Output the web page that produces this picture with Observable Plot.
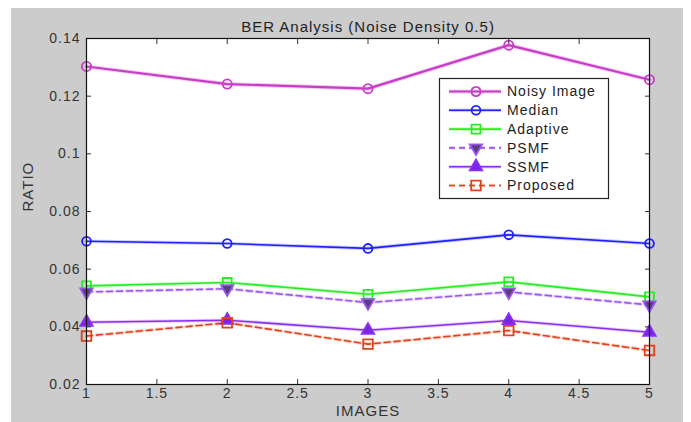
<!DOCTYPE html>
<html>
<head>
<meta charset="utf-8">
<script src="https://cdn.jsdelivr.net/npm/d3@7"></script>
<script src="https://cdn.jsdelivr.net/npm/@observablehq/plot@0.6"></script>
<style>
  html, body { margin: 0; padding: 0; background: #ffffff; }
  #wrap { position: relative; width: 691px; height: 422px; overflow: hidden; }
  #bg { position: absolute; left: 11px; top: 8px; width: 672px; height: 414px; background: #cccccc; }
  #chart { position: absolute; left: 0; top: 0; }
  #legend { position: absolute; left: 0; top: 0; }
  svg text { letter-spacing: 1px; }
</style>
</head>
<body>
<div id="wrap"><div id="bg"></div><div id="chart"></div><div id="legend"></div></div>
<script>
// ---- data ----
const images   = [1, 2, 3, 4, 5];
const noisy    = [0.1303, 0.1242, 0.1226, 0.1377, 0.1257];
const median   = [0.0697, 0.0689, 0.0672, 0.0719, 0.0689];
const adaptive = [0.0542, 0.0554, 0.0513, 0.0556, 0.0504];
const psmf     = [0.0521, 0.0532, 0.0484, 0.0521, 0.0476];
const ssmf     = [0.0416, 0.0423, 0.0388, 0.0422, 0.0381];
const proposed = [0.0368, 0.0414, 0.0340, 0.0387, 0.0318];
const seriesNames = ["Noisy Image", "Median", "Adaptive", "PSMF", "SSMF", "Proposed"];
const xTicks = [1, 1.5, 2, 2.5, 3, 3.5, 4, 4.5, 5];
const xTickLabels = ["1", "1.5", "2", "2.5", "3", "3.5", "4", "4.5", "5"];
const yTicks = [0.02, 0.04, 0.06, 0.08, 0.1, 0.12, 0.14];
const yTickLabels = ["0.02", "0.04", "0.06", "0.08", "0.1", "0.12", "0.14"];
const titleText = "BER Analysis (Noise Density 0.5)";
const xLabel = "IMAGES";
const yLabel = "RATIO";

// ---- styles ----
const styles = [
  {color: "#c83cc8", halo: "#e49be4", width: 2.2, dash: null, symbol: "circle", fill: "none", r: 4.6, rotate: 0},
  {color: "#1f1fff", halo: "#9b9bff", width: 1.6, dash: null, symbol: "circle", fill: "none", r: 4.4, rotate: 0},
  {color: "#22ee22", halo: "#a6f7a6", width: 1.6, dash: null, symbol: "square", fill: "none", r: 5.0, rotate: 0},
  {color: "#9b55ee", halo: "#d2b2f7", width: 1.6, dash: "6,4", symbol: "triangle", fill: "#58407a", r: 4.6, rotate: 180},
  {color: "#8a2ff0", halo: "#c8a4f7", width: 1.6, dash: null, symbol: "triangle", fill: "#7a25e6", r: 4.6, rotate: 0},
  {color: "#e0401c", halo: "#f3a890", width: 1.6, dash: "6,4", symbol: "square", fill: "none", r: 5.4, rotate: 0}
];
const allValues = [noisy, median, adaptive, psmf, ssmf, proposed];

const rows = [];
allValues.forEach((vals, s) => vals.forEach((v, i) => rows.push({series: seriesNames[s], s, x: images[i], y: v})));

const seriesMarks = [];
allValues.forEach((vals, s) => {
  const st = styles[s];
  const d = rows.filter(r => r.s === s);
  seriesMarks.push(Plot.line(d, {x: "x", y: "y", stroke: st.halo, strokeWidth: st.width + 2, strokeOpacity: 0.5, strokeDasharray: st.dash}));
  seriesMarks.push(Plot.line(d, {x: "x", y: "y", stroke: st.color, strokeWidth: st.width, strokeDasharray: st.dash}));
});
allValues.forEach((vals, s) => {
  const st = styles[s];
  const d = rows.filter(r => r.s === s);
  seriesMarks.push(Plot.dot(d, {x: "x", y: "y", symbol: st.symbol, r: st.r, stroke: st.color, strokeWidth: 1.8, fill: st.fill, rotate: st.rotate}));
});

const fmtX = d => xTickLabels[xTicks.indexOf(d)] ?? String(d);
const fmtY = d => { const i = yTicks.findIndex(t => Math.abs(t - d) < 1e-9); return i >= 0 ? yTickLabels[i] : String(d); };

const chart = Plot.plot({
  width: 691,
  height: 422,
  marginLeft: 86,
  marginRight: 42,
  marginTop: 38,
  marginBottom: 38,
  x: {domain: [1, 5]},
  y: {domain: [0.02, 0.14]},
  style: {background: "transparent", fontFamily: "'Liberation Sans', Arial, sans-serif", fontSize: "14px", color: "#222"},
  marks: [
    Plot.frame({fill: "white", stroke: null}),
    ...seriesMarks,
    Plot.axisX({anchor: "bottom", ticks: xTicks, tickSize: -5, tickPadding: 9, tickFormat: fmtX, label: null, stroke: "#333", fill: "#333"}),
    Plot.axisX({anchor: "top", ticks: xTicks, tickSize: -5, tickFormat: () => "", label: null, stroke: "#333"}),
    Plot.axisY({anchor: "left", ticks: yTicks, tickSize: -5, tickPadding: 11, tickFormat: fmtY, label: null, stroke: "#333", fill: "#333"}),
    Plot.axisY({anchor: "right", ticks: yTicks, tickSize: -5, tickFormat: () => "", label: null, stroke: "#333"}),
    Plot.frame({stroke: "#111", strokeWidth: 1.2}),
    Plot.text([titleText], {frameAnchor: "top", dy: -17, text: d => d, fontSize: 15, fill: "#222"}),
    Plot.text([xLabel], {frameAnchor: "bottom", dy: 31, text: d => d, fontSize: 15, fill: "#333"}),
    Plot.text([yLabel], {frameAnchor: "left", dx: -58, rotate: -90, text: d => d, fontSize: 15, fill: "#333"})
  ]
});
document.getElementById("chart").appendChild(chart);

// ---- legend ----
const lg = d3.select("#legend").append("svg").attr("width", 691).attr("height", 422);
lg.append("rect").attr("x", 439.5).attr("y", 78.5).attr("width", 169).attr("height", 120)
  .attr("fill", "white").attr("stroke", "#222").attr("stroke-width", 1.2);
const symGen = {circle: d3.symbolCircle, square: d3.symbolSquare, triangle: d3.symbolTriangle};
seriesNames.forEach((name, i) => {
  const st = styles[i];
  const cy = 91.5 + i * 18.8;
  lg.append("line").attr("x1", 449).attr("x2", 501).attr("y1", cy).attr("y2", cy)
    .attr("stroke", st.halo).attr("stroke-width", st.width + 2).attr("stroke-opacity", 0.5).attr("stroke-dasharray", st.dash);
  lg.append("line").attr("x1", 449).attr("x2", 501).attr("y1", cy).attr("y2", cy)
    .attr("stroke", st.color).attr("stroke-width", st.width).attr("stroke-dasharray", st.dash);
  lg.append("path").attr("d", d3.symbol(symGen[st.symbol], Math.PI * st.r * st.r)())
    .attr("transform", `translate(476,${cy}) rotate(${st.rotate})`)
    .attr("fill", st.fill).attr("stroke", st.color).attr("stroke-width", 1.8);
  lg.append("text").attr("x", 507).attr("y", cy).attr("dy", "0.35em")
    .attr("font-family", "'Liberation Sans', Arial, sans-serif").attr("font-size", 14)
    .attr("fill", "#222").text(name);
});
</script>
</body>
</html>
